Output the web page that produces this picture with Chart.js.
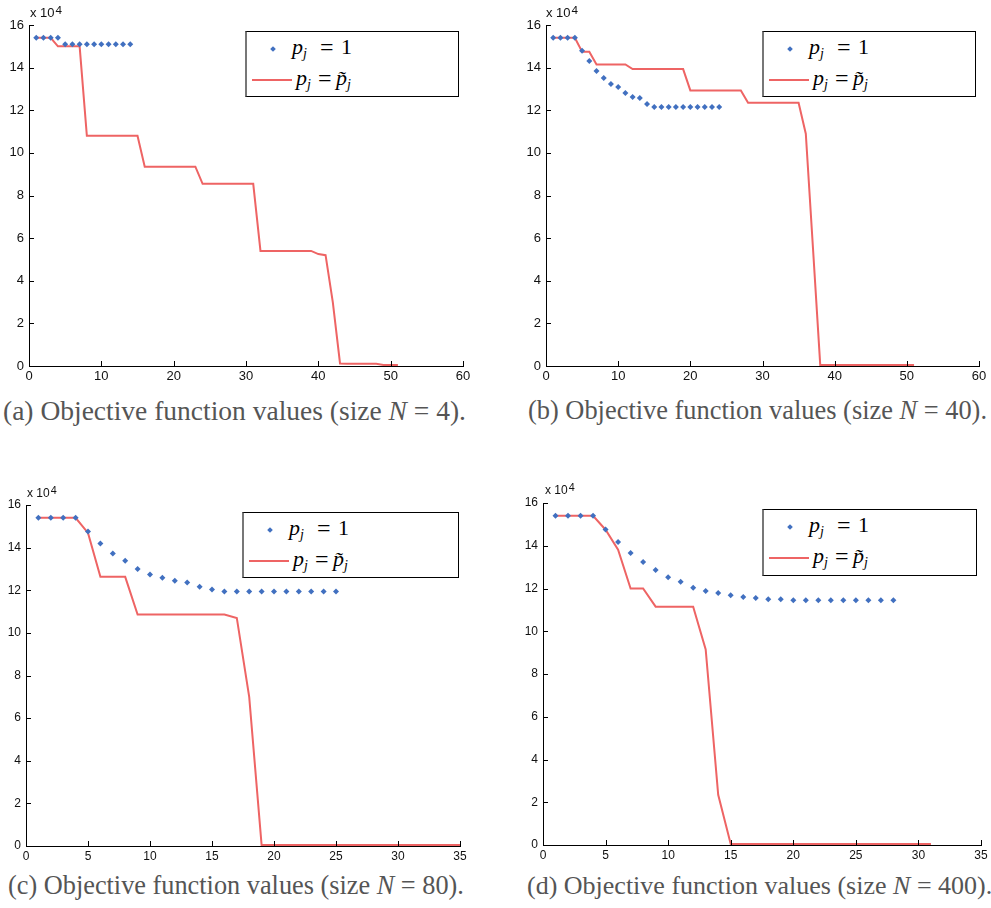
<!DOCTYPE html>
<html><head><meta charset="utf-8">
<script src="https://cdn.jsdelivr.net/npm/chart.js@4"></script>
<style>
body{margin:0;background:#fff;width:991px;height:908px;position:relative;overflow:hidden;}
canvas{position:absolute;}
.cap{position:absolute;font-family:"Liberation Serif","Times New Roman",serif;color:#555;white-space:nowrap;line-height:1;}
.mult{position:absolute;font-family:"Liberation Sans",Arial,sans-serif;color:#111;white-space:nowrap;line-height:1;}
.mult sup{font-size:0.9em;position:relative;top:-0.25em;vertical-align:baseline;margin-left:1px;}
.leg{position:absolute;border:1px solid #000;border-left:2px solid #777;background:#fff;box-sizing:border-box;}
.lt{position:absolute;font-family:"Liberation Serif","Times New Roman",serif;font-size:22px;line-height:1;white-space:nowrap;color:#000;}
.lt sub{font-size:14px;vertical-align:-4px;font-style:italic;}
.mk{position:absolute;width:4px;height:4px;background:#4170C0;transform:rotate(45deg);}
.ln{position:absolute;height:2px;background:#EE6464;}
</style></head><body>
<canvas id="ca" width="495" height="395" style="left:0;top:0"></canvas>
<canvas id="cb" width="496" height="395" style="left:495px;top:0"></canvas>
<canvas id="cc" width="495" height="400" style="left:0;top:470px"></canvas>
<canvas id="cd" width="496" height="400" style="left:495px;top:470px"></canvas>

<div class="mult" style="left:30px;top:6px;font-size:13px">x 10<sup>4</sup></div>
<div class="mult" style="left:546px;top:6px;font-size:13px">x 10<sup>4</sup></div>
<div class="mult" style="left:27px;top:487px;font-size:12px">x 10<sup>4</sup></div>
<div class="mult" style="left:545px;top:484px;font-size:12px">x 10<sup>4</sup></div>

<div class="cap" style="left:3px;top:397px;font-size:27.5px">(a) Objective function values (size <i>N</i> = 4).</div>
<div class="cap" style="left:528px;top:397px;font-size:26.4px">(b) Objective function values (size <i>N</i> = 40).</div>
<div class="cap" style="left:8px;top:873px;font-size:26.3px">(c) Objective function values (size <i>N</i> = 80).</div>
<div class="cap" style="left:527px;top:873px;font-size:26px">(d) Objective function values (size <i>N</i> = 400).</div>

<div id="legs"></div>

<script>
// iteration index starts at 1; values are objective function values
const blueA = [154000,154000,154000,154000,151000,151000,151000,151000,151000,151000,151000,151000,151000,151000];
const redA = [154000,154000,154000,150000,150000,150000,150000,
  108000,108000,108000,108000,108000,108000,108000,108000,
  93500,93500,93500,93500,93500,93500,93500,93500,
  85500,85500,85500,85500,85500,85500,85500,85500,
  54000,54000,54000,54000,54000,54000,54000,54000,
  52500,52000,30000,1200,
  1000,1000,1000,1000,1000,500,500,500];

const blueB = [154000,154000,154000,154000,147900,143100,138400,135100,132300,130900,128100,126200,125700,122900,
  121500,121500,121500,121500,121500,121500,121500,121500,121500,121500];
const redB = [154000,154000,154000,154000,147500,147500,
  141500,141500,141500,141500,141500,
  139300,139300,139300,139300,139300,139300,139300,139300,
  129300,129300,129300,129300,129300,129300,129300,129300,
  123500,123500,123500,123500,123500,123500,123500,123500,
  109000,55000,
  500,500,500,500,500,500,500,500,500,500,500,500,500,500];

const blueC = [154000,154000,154000,154000,147600,141900,137200,133900,130000,127400,125900,124500,123600,121700,120300,
  119400,119400,119400,119400,119400,119400,119400,119400,119400,119400];
const redC = [154000,154000,154000,154000,146900,126300,126300,126300,
  108600,108600,108600,108600,108600,108600,108600,108600,
  107000,70000,
  500,500,500,500,500,500,500,500,500,500,500,500,500,500,500,500,500];

const blueD = [154000,154000,154000,154000,147600,141800,136600,132400,128600,125300,123100,120300,118800,117900,116900,116000,115500,115000,115000,
  114500,114500,114500,114500,114500,114500,114500,114500,114500];
const redD = [154000,154000,154000,154000,147500,138200,120000,120000,
  111500,111500,111500,111500,91500,23500,
  500,500,500,500,500,500,500,500,500,500,500,500,500,500,500,500,500];

const seriesNames = ['p_j = 1', 'p_j = p~_j'];
const BLUE = '#4170C0', RED = '#EE6464';

const inwardTicks = {
  id: 'inwardTicks',
  afterDraw(chart) {
    const {ctx, chartArea: a, scales: {x, y}} = chart;
    ctx.save();
    ctx.strokeStyle = '#000'; ctx.lineWidth = 1;
    ctx.beginPath();
    x.ticks.forEach(t => {
      const px = Math.round(x.getPixelForValue(t.value)) + 0.5;
      ctx.moveTo(px, a.bottom); ctx.lineTo(px, a.bottom - 5);
    });
    y.ticks.forEach(t => {
      const py = Math.round(y.getPixelForValue(t.value)) + 0.5;
      ctx.moveTo(a.left, py); ctx.lineTo(a.left + 5, py);
    });
    ctx.stroke();
    ctx.restore();
  }
};

function pts(vals) { return vals.map((v, i) => ({x: i + 1, y: v})); }

function makeChart(id, blue, red, xMax, xStep, g, fs) {
  new Chart(document.getElementById(id), {
    type: 'scatter',
    data: {
      datasets: [
        {label: seriesNames[0], data: pts(blue), showLine: false, pointStyle: 'rectRot',
         pointRadius: 3, pointBackgroundColor: BLUE, pointBorderWidth: 0, borderColor: BLUE, backgroundColor: BLUE},
        {label: seriesNames[1], data: pts(red), showLine: true, pointRadius: 0, borderColor: RED,
         borderWidth: 2, tension: 0, backgroundColor: RED}
      ]
    },
    options: {
      responsive: false, animation: false, devicePixelRatio: 1,
      layout: {padding: {left: g.pl, right: g.pr, top: g.pt, bottom: 0}},
      plugins: {legend: {display: false}, tooltip: {enabled: false}},
      scales: {
        x: {type: 'linear', min: 0, max: xMax,
            ticks: {stepSize: xStep, color: '#111', font: {family: 'Liberation Sans', size: fs}, padding: 3, maxRotation: 0, autoSkip: false},
            grid: {drawOnChartArea: false, drawTicks: false},
            border: {color: '#000', width: 1},
            afterFit(s) { s.height = g.xh; }},
        y: {type: 'linear', min: 0, max: 160000,
            ticks: {stepSize: 20000, color: '#111', font: {family: 'Liberation Sans', size: fs}, padding: 5,
                    callback: v => String(v / 10000)},
            grid: {drawOnChartArea: false, drawTicks: false},
            border: {color: '#000', width: 1},
            afterFit(s) { s.width = g.yw; }}
      }
    },
    plugins: [inwardTicks]
  });
}

makeChart('ca', blueA, redA, 60, 10, {pl: 0, pr: 32, pt: 25, yw: 29, xh: 29}, 13);
makeChart('cb', blueB, redB, 60, 10, {pl: 22, pr: 12, pt: 25, yw: 29, xh: 29}, 13);
makeChart('cc', blueC, redC, 35, 5, {pl: 0, pr: 35, pt: 35, yw: 26, xh: 24}, 12);
makeChart('cd', blueD, redD, 35, 5, {pl: 19, pr: 10, pt: 33, yw: 29, xh: 25}, 12);

// legends
function legend(left, top, w, h) {
  const d = document.createElement('div');
  d.className = 'leg';
  d.style.cssText = `left:${left}px;top:${top}px;width:${w}px;height:${h}px`;
  d.innerHTML =
    `<div class="mk" style="left:24px;top:15px"></div>` +
    `<div class="lt" style="left:45px;top:4px"><i>p</i><sub>j</sub></div>` +
    `<div class="lt" style="left:73px;top:3px;font-size:24px">=</div>` +
    `<div class="lt" style="left:94px;top:4px">1</div>` +
    `<div class="ln" style="left:5px;top:47px;width:40px"></div>` +
    `<div class="lt" style="left:49px;top:35px"><i>p</i><sub>j</sub></div>` +
    `<div class="lt" style="left:71px;top:34px;font-size:24px">=</div>` +
    `<div class="lt" style="left:89px;top:35px"><i>p\u0303</i><sub>j</sub></div>`;
  document.getElementById('legs').appendChild(d);
}
legend(245, 31, 214, 66);
legend(762, 31, 214, 66);
legend(242, 512, 217, 66);
legend(762, 509, 215, 67);
</script>
</body></html>
